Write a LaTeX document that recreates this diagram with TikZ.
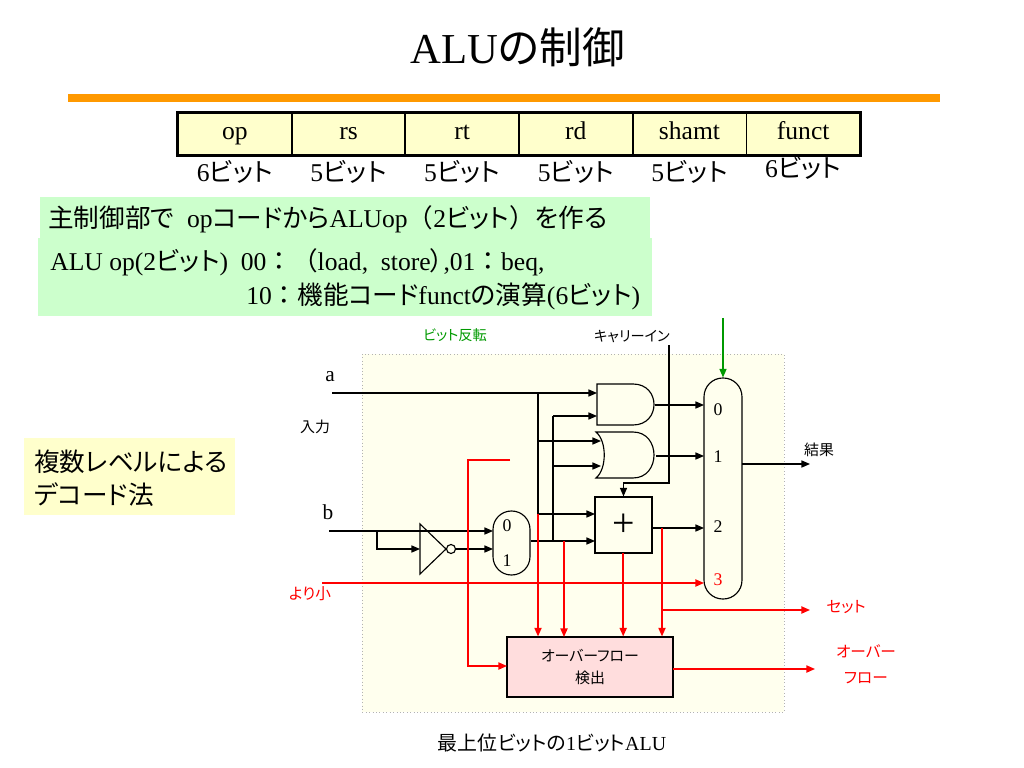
\documentclass[tikz,border=0pt]{standalone}
\usepackage{fontspec}
\setmainfont{Liberation Serif}
\newfontfamily\jp[RawFeature=+palt]{Noto Sans CJK JP}
\newfontfamily\jpw{Noto Sans CJK JP}
\usetikzlibrary{arrows.meta}
\definecolor{tblfill}{RGB}{255,255,204}
\definecolor{grnbox}{RGB}{204,255,204}
\definecolor{bgpale}{RGB}{255,255,238}
\definecolor{pinkbox}{RGB}{255,221,221}
\definecolor{orng}{RGB}{255,153,0}
\definecolor{wred}{RGB}{255,0,0}
\definecolor{wgreen}{RGB}{0,153,0}
\newcommand{\fs}[2]{\fontsize{#1}{#2}\selectfont}
\begin{document}
\begin{tikzpicture}[x=0.703125pt,y=-0.703125pt,
  wire/.style={line width=0.8pt},
  arr/.style={-{Triangle[length=6pt,width=5pt]}},
  rw/.style={line width=1pt, draw=wred},
  cell/.style={draw, line width=1.2pt, fill=tblfill, minimum width=79.92pt, minimum height=29.5pt, inner sep=0pt, text height=12pt, text depth=4pt, font=\fs{18}{22}},
  bits/.style={font=\fs{18}{22}, inner sep=0pt},
  lbl/.style={font=\jp\fs{10.5}{13}, inner sep=0pt},
  rlbl/.style={font=\jp\fs{11}{18}, text=wred, inner sep=0pt},
  num/.style={font=\fs{12.5}{14}, inner sep=0pt},
  gate/.style={line width=0.8pt}]
\useasboundingbox (0,0) rectangle (1024,768);

% title
\node (title) at (518,47) {\fs{30}{36}ALU{\jp の制御}};
\draw[orng, line width=5.6pt] (68,98) -- (940,98);

% instruction format table
\foreach \t/\b [count=\k] in {op/6,rs/5,rt/5,rd/5,shamt/5,funct/6}{
  \node[cell] (c\k) at ({178+113.67*(\k-0.5)},134) {\t};
}
\draw[line width=2.2pt] (c1.north west) rectangle (c6.south east);
\foreach \b/\yy [count=\k] in {6/172,5/172,5/172,5/172,5/172,6/168}{
  \node[bits] (bt\k) at ({178+113.67*(\k-0.5)},\yy) {\b{\jp ビット}};
}

% green boxes
\fill[grnbox] (40,197) rectangle (650,241);
\fill[grnbox] (38,238) rectangle (652,316);
\node[anchor=west, inner sep=0pt] (g1) at (48,219) {\fs{18}{22}{\jp 主制御部で}\ \ op{\jp コードから}ALUop{\jpw （}2{\jp ビット}{\jpw ）}{\jp を作る}};
\node[anchor=west, inner sep=0pt] (g2) at (50,262) {\fs{18}{22}ALU op(2{\jp ビット})\ \ 00{\jpw ：（}load,\ \ store{\jp ）},01{\jpw ：}beq,};
\node[anchor=west, inner sep=0pt] (g3) at (246,296) {\fs{18}{22}10{\jpw ：}{\jp 機能コード}funct{\jp の演算}(6{\jp ビット})};

% yellow note
\fill[tblfill] (24,438) rectangle (235,515);
\node[anchor=west, inner sep=0pt] (y1) at (34,462) {\jp\fs{18}{22}複数レベルによる};
\node[anchor=west, inner sep=0pt] (y2) at (34,495) {\jp\fs{18}{22}デコード法};

% diagram background
\draw[fill=bgpale, draw=gray!60, dotted] (362,354) rectangle (784,712);

% AND gate
\draw[gate] (597,384) -- (633,384) .. controls (661,384) and (661,425) .. (633,425) -- (597,425) -- cycle;
% OR gate
\draw[gate] (596,432) -- (633,432) .. controls (661,432) and (661,478) .. (633,478) -- (596,478) .. controls (607,469) and (607,441) .. (596,432) -- cycle;
% inverter
\draw[gate] (420,524) -- (446,549) -- (420,574) -- cycle;
\draw[gate] (451,549) circle[radius=4.5];

% muxes
\node[draw, gate, minimum width=26pt, minimum height=45pt, rounded corners=12.9pt, inner sep=0pt] (bm) at (511.5,543) {};
\node[num] (bm0) at (507,526) {0};
\node[num] (bm1) at (507,561) {1};
\node[draw, gate, minimum width=26.7pt, minimum height=155.4pt, rounded corners=13.2pt, inner sep=0pt] (M) at (723,488.5) {};
\node[num] (M0l) at (718,410) {0};
\node[num] (M1l) at (718,457) {1};
\node[num] (M2l) at (718,527) {2};
\node[num, text=wred] (M3l) at (718,580) {3};

% adder
\node[draw, gate, minimum width=40pt, minimum height=39.4pt, inner sep=0pt, font=\fs{28}{30}] (add) at (623.5,525) {+};
% overflow detector
\node[draw, gate, fill=pinkbox, minimum width=116.7pt, minimum height=42.2pt, align=center, font=\jp\fs{10.5}{16}] (ov) at (590,667) {オーバーフロー\\検出};

% coordinates
\coordinate (aIn) at (332,393);
\coordinate (andA) at (597,393);
\coordinate (andB) at (597,416);
\coordinate (andO) at (655,405);
\coordinate (orA) at (601,441);
\coordinate (orB) at (601,466);
\coordinate (orO) at (656,456);
\coordinate (ja) at (538,393);
\coordinate (bIn) at (329,531);
\coordinate (jb) at (377,531);
\coordinate (invIn) at (420,549);
\coordinate (invO) at (455.5,549);
\coordinate (bm0p) at (493,531);
\coordinate (bm1p) at (493,549);
\coordinate (bmO) at (531,541);
\coordinate (jm) at (553,541);
\coordinate (addA) at (595,514);
\coordinate (addB) at (595,541);
\coordinate (addO) at (652,528);
\coordinate (addS) at (623.2,553);
\coordinate (M0) at (704,405);
\coordinate (M1) at (704,456);
\coordinate (M2) at (704,528);
\coordinate (M3) at (704,583);
\coordinate (MO) at (742,464);
\coordinate (resEnd) at (810,464);
\coordinate (cinTop) at (669,345);
\coordinate (cinBend) at (669,483);
\coordinate (grTop) at (723,318);
\coordinate (ltIn) at (322,583);
\coordinate (rl1) at (510,460);
\coordinate (rl2) at (468,460);
\coordinate (ovL) at (507,666);
\coordinate (ovO) at (673,669);
\coordinate (ovEnd) at (815,669);
\coordinate (jo) at (662,528);
\coordinate (setEnd) at (810,610);

% black wires
\draw[wire,arr] (aIn) -- (andA);
\draw[wire] (ja) -- (ja |- addA);
\draw[wire,arr] (ja |- addA) -- (addA);
\draw[wire,arr] (ja |- orA) -- (orA);
\draw[wire,arr] (bIn) -- (bm0p);
\draw[wire,arr] (jb) |- (invIn);
\draw[wire,arr] (invO) -- (bm1p);
\draw[wire,arr] (bmO) -- (addB);
\draw[wire] (jm) -- (jm |- andB);
\draw[wire,arr] (jm |- andB) -- (andB);
\draw[wire,arr] (jm |- orB) -- (orB);
\draw[wire,arr] (andO) -- (M0);
\draw[wire,arr] (orO) -- (M1);
\draw[wire,arr] (addO) -- (M2);
\draw[wire,arr] (cinTop) -- (cinBend) -| (add.north);
\draw[wire,arr] (MO) -- (resEnd);
\draw[line width=0.8pt, draw=wgreen, arr] (grTop) -- (M.north);

% red wires
\draw[rw,arr] (ltIn) -- (M3);
\draw[rw,arr] (ja |- addA) -- (ja |- ov.north);
\draw[rw,arr] (564,541) -- (564,637);
\draw[rw,arr] (addS) -- (addS |- ov.north);
\draw[rw,arr] (jo) -- (jo |- ov.north);
\draw[rw,arr] (jo |- setEnd) -- (setEnd);
\draw[rw,arr] (rl1) -- (rl2) |- (ovL);
\draw[rw,arr] (ovO) -- (ovEnd);

% labels
\node[font=\jp\fs{10}{12}, text=wgreen, inner sep=0pt] (lInv) at (455,335) {ビット反転};
\node[lbl, font=\jp\fs{10}{12}] (lCin) at (632,337) {キャリーイン};
\node[font=\fs{15}{17}, inner sep=0pt] (la) at (330,377) {a};
\node[font=\fs{15}{17}, inner sep=0pt] (lb) at (328,512) {b};
\node[lbl] (lIn) at (315,427) {入力};
\node[rlbl] (lLt) at (310,594) {より小};
\node[lbl] (lRes) at (819,450) {結果};
\node[rlbl] (lSet) at (846,607) {セット};
\node[rlbl, align=center] (lOv) at (866,664) {オーバー\\フロー};
\node[inner sep=0pt] (cap) at (552,743) {\fs{14}{16}{\jp 最上位ビットの}1{\jp ビット}ALU};
\end{tikzpicture}
\end{document}
